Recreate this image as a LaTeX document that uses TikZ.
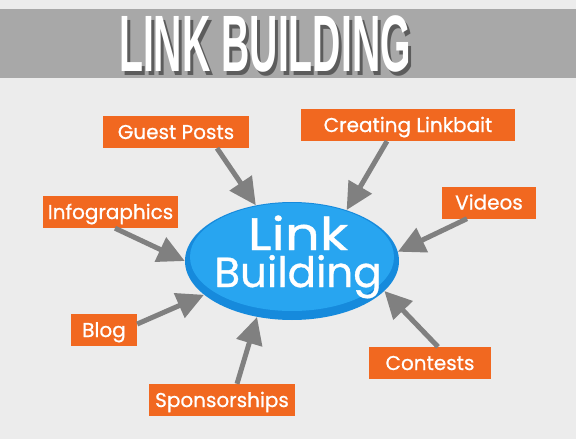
\documentclass[tikz,border=0pt]{standalone}
\usepackage{fontspec}
\usepackage{graphicx}
\usetikzlibrary{arrows.meta,calc,shapes.geometric}
\newfontfamily\boxfont{Poppins}[FakeBold=0.8]
\newfontfamily\titlefont{Liberation Sans}
\definecolor{bg}{RGB}{236,236,236}
\definecolor{bar}{RGB}{168,168,168}
\definecolor{org}{RGB}{241,104,32}
\definecolor{arr}{RGB}{128,128,128}
\definecolor{blueout}{RGB}{22,138,220}
\definecolor{bluein}{RGB}{40,165,240}
\begin{document}
\begin{tikzpicture}[x=1pt,y=-1pt,
  box/.style={fill=org, text=white, inner sep=0pt, text height=14pt, text depth=0pt,
    minimum height=32pt, font=\boxfont\fontsize{20}{20}\selectfont},
  link/.style={draw=arr, line width=5pt, -{Triangle[length=27pt,width=26pt]}},
  ttl/.style={inner sep=0pt, font=\titlefont\bfseries\fontsize{80}{80}\selectfont}]
\fill[bg] (0,0) rectangle (576,439);
\useasboundingbox (0,0) rectangle (576,439);
\fill[bar] (0,9) rectangle (576,78);
% title with shadow
\node[ttl, text=black, opacity=0.45] (shadow) at (268,47.5) {\scalebox{0.49}[1]{LINK BUILDING}};
\node[ttl, text=white] (title) at (265,43.5) {\scalebox{0.49}[1]{LINK BUILDING}};
% central ellipse
\node[ellipse, fill=blueout, minimum width=214pt, minimum height=118pt, inner sep=0pt] (lb) at (292,261) {};
\fill[bluein] (292,257) ellipse [x radius=102, y radius=54];
\node[anchor=base, inner sep=0pt, text=white, align=center,
  font=\boxfont\fontsize{42}{37}\selectfont] (lbtext) at (298,287)
  {\scalebox{1.3}[1.08]{Link}\\Building};
% boxes
\node[box, minimum width=146pt] (gp) at (176,132) {Guest Posts};
\node[box, minimum width=135pt] (ig) at (110.5,212) {Infographics};
\node[box, minimum width=214pt] (cl) at (408,125) {Creating Linkbait};
\node[box, minimum width=94pt] (vi) at (489,202.5) {Videos};
\node[box, minimum width=66pt] (bl) at (104,330) {Blog};
\node[box, minimum width=146pt] (sp) at (222,400) {Sponsorships};
\node[box, minimum width=122pt] (co) at (430,363) {Contests};
% arrows
\draw[link] ([xshift=41pt]gp.south) -- (lb.123.5);
\draw[link] ([xshift=4.5pt]ig.south) -- (lb.180);
\draw[link] ([xshift=-21pt]cl.south) -- (lb.43);
\draw[link] ([xshift=-22pt]vi.south) -- (lb.5);
\draw[link] ([yshift=6pt]bl.east) -- (lb.201);
\draw[link] ([xshift=15pt]sp.north) -- (lb.238);
\draw[link] ([xshift=8pt]co.north) -- (lb.-18.4);
\end{tikzpicture}
\end{document}
